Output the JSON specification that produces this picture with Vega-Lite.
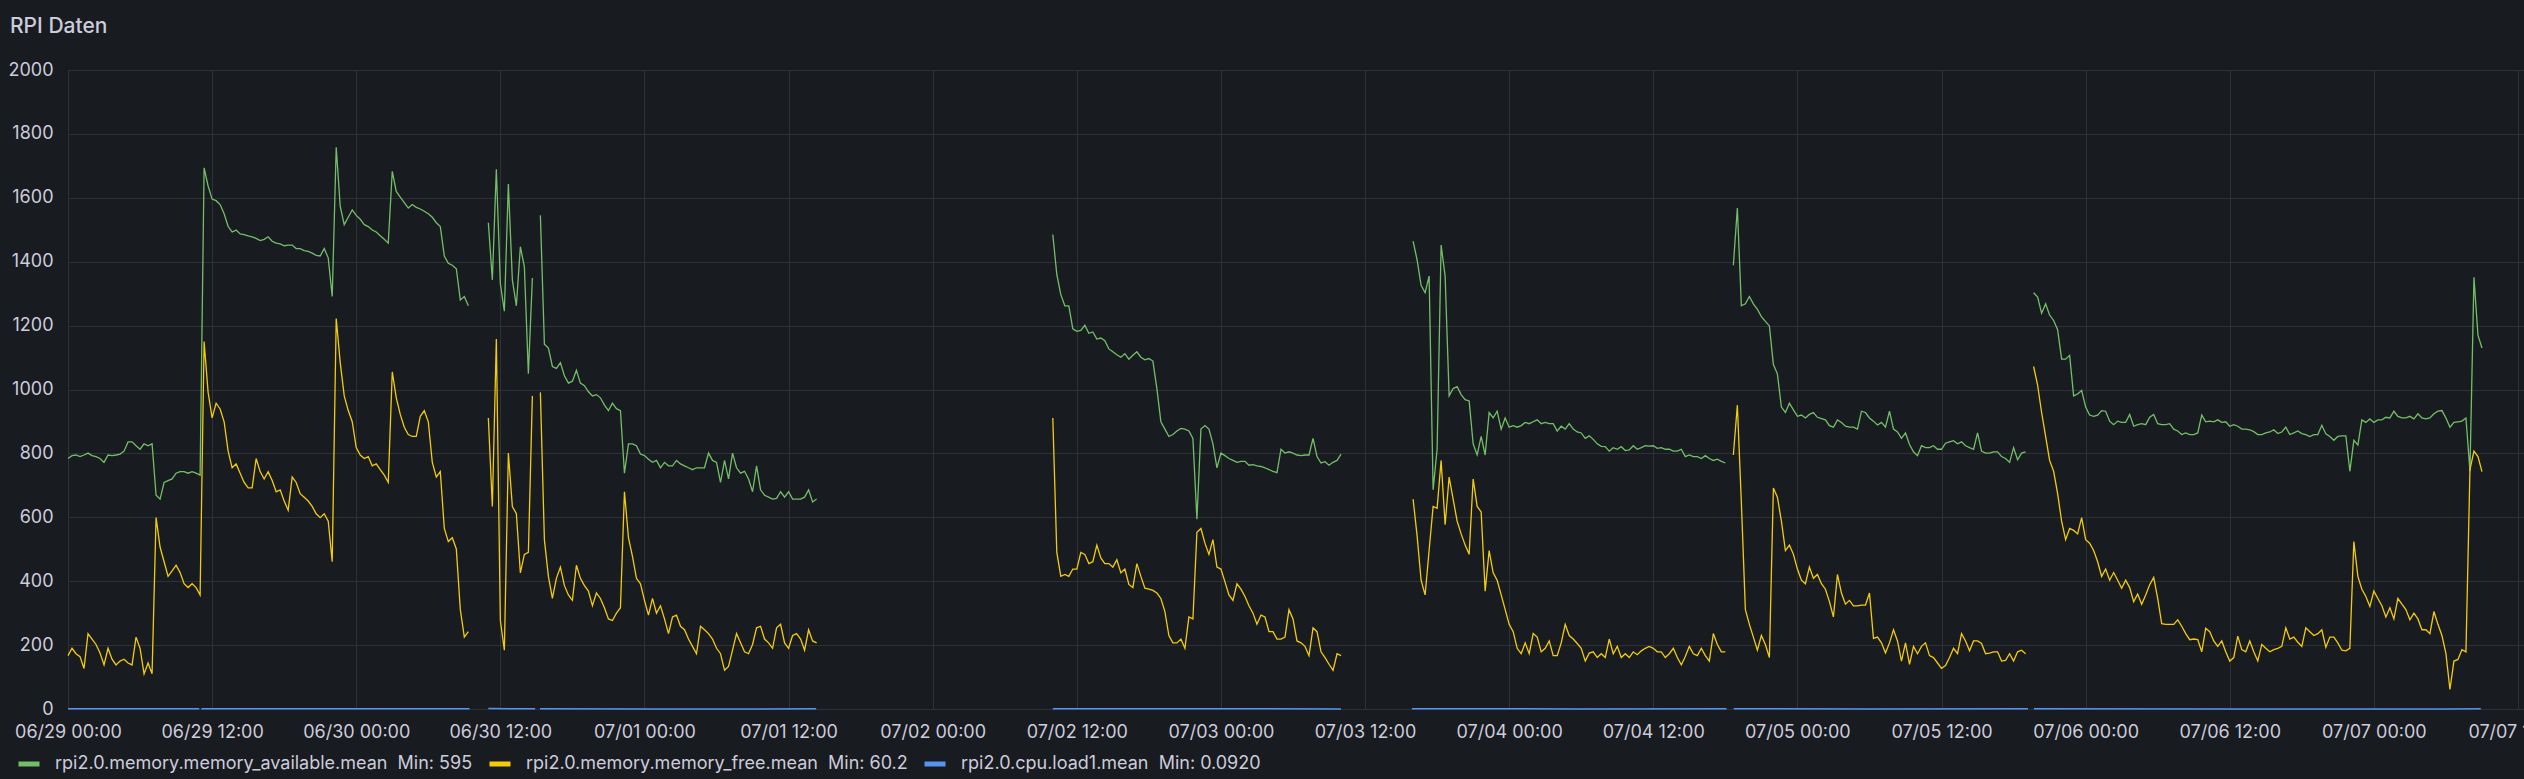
{
"$schema":"https://vega.github.io/schema/vega-lite/v6.json",
"autosize":{"type":"none"},
"width":2456,"height":639,
"padding":{"left":68,"top":70,"right":0,"bottom":70},
"background":"#181b1f",
"title":{"text":"RPI Daten","anchor":"start","frame":"group","dx":-58,"offset":7,"baseline":"alphabetic","fontSize":21,"fontWeight":500,"font":"Inter","color":"#ccccdc"},
"datasets":{
"mem":[
{"t":"2023-06-29T00:00","a":784,"f":167},{"t":"2023-06-29T00:20","a":793,"f":190},{"t":"2023-06-29T00:40","a":795,"f":173},{"t":"2023-06-29T01:00","a":790,"f":164},{"t":"2023-06-29T01:20","a":795,"f":127},{"t":"2023-06-29T01:40","a":801,"f":236},{"t":"2023-06-29T02:00","a":793,"f":219},{"t":"2023-06-29T02:20","a":790,"f":202},{"t":"2023-06-29T02:40","a":784,"f":175},{"t":"2023-06-29T03:00","a":772,"f":138},{"t":"2023-06-29T03:20","a":795,"f":190},{"t":"2023-06-29T03:40","a":793,"f":156},{"t":"2023-06-29T04:00","a":795,"f":138},{"t":"2023-06-29T04:20","a":798,"f":150},{"t":"2023-06-29T04:40","a":807,"f":156},{"t":"2023-06-29T05:00","a":836,"f":144},{"t":"2023-06-29T05:20","a":836,"f":138},{"t":"2023-06-29T05:40","a":824,"f":225},{"t":"2023-06-29T06:00","a":813,"f":190},{"t":"2023-06-29T06:20","a":830,"f":110},{"t":"2023-06-29T06:40","a":824,"f":144},{"t":"2023-06-29T07:00","a":830,"f":110},{"t":"2023-06-29T07:20","a":669,"f":599},{"t":"2023-06-29T07:40","a":657,"f":507},{"t":"2023-06-29T08:00","a":709,"f":461},{"t":"2023-06-29T08:20","a":715,"f":415},{"t":"2023-06-29T08:40","a":720,"f":432},{"t":"2023-06-29T09:00","a":738,"f":450},{"t":"2023-06-29T09:20","a":743,"f":427},{"t":"2023-06-29T09:40","a":743,"f":392},{"t":"2023-06-29T10:00","a":738,"f":380},{"t":"2023-06-29T10:20","a":743,"f":392},{"t":"2023-06-29T10:40","a":738,"f":380},{"t":"2023-06-29T11:00","a":732,"f":357},{"t":"2023-06-29T11:20","a":1694,"f":1150},{"t":"2023-06-29T11:40","a":1637,"f":991},{"t":"2023-06-29T12:00","a":1596,"f":911},{"t":"2023-06-29T12:20","a":1591,"f":957},{"t":"2023-06-29T12:40","a":1579,"f":939},{"t":"2023-06-29T13:00","a":1550,"f":899},{"t":"2023-06-29T13:20","a":1510,"f":807},{"t":"2023-06-29T13:40","a":1493,"f":755},{"t":"2023-06-29T14:00","a":1499,"f":767},{"t":"2023-06-29T14:20","a":1487,"f":738},{"t":"2023-06-29T14:40","a":1485,"f":709},{"t":"2023-06-29T15:00","a":1481,"f":692},{"t":"2023-06-29T15:20","a":1478,"f":692},{"t":"2023-06-29T15:40","a":1473,"f":784},{"t":"2023-06-29T16:00","a":1466,"f":743},{"t":"2023-06-29T16:20","a":1470,"f":720},{"t":"2023-06-29T16:40","a":1478,"f":743},{"t":"2023-06-29T17:00","a":1464,"f":715},{"t":"2023-06-29T17:20","a":1458,"f":680},{"t":"2023-06-29T17:40","a":1456,"f":686},{"t":"2023-06-29T18:00","a":1450,"f":651},{"t":"2023-06-29T18:20","a":1452,"f":622},{"t":"2023-06-29T18:40","a":1452,"f":726},{"t":"2023-06-29T19:00","a":1441,"f":709},{"t":"2023-06-29T19:20","a":1441,"f":674},{"t":"2023-06-29T19:40","a":1435,"f":663},{"t":"2023-06-29T20:00","a":1432,"f":651},{"t":"2023-06-29T20:20","a":1427,"f":634},{"t":"2023-06-29T20:40","a":1420,"f":611},{"t":"2023-06-29T21:00","a":1418,"f":599},{"t":"2023-06-29T21:20","a":1441,"f":611},{"t":"2023-06-29T21:40","a":1412,"f":588},{"t":"2023-06-29T22:00","a":1291,"f":461},{"t":"2023-06-29T22:20","a":1758,"f":1222},{"t":"2023-06-29T22:40","a":1573,"f":1084},{"t":"2023-06-29T23:00","a":1516,"f":980},{"t":"2023-06-29T23:20","a":1539,"f":934},{"t":"2023-06-29T23:40","a":1562,"f":899},
{"t":"2023-06-30T00:00","a":1545,"f":818},{"t":"2023-06-30T00:20","a":1533,"f":795},{"t":"2023-06-30T00:40","a":1516,"f":784},{"t":"2023-06-30T01:00","a":1510,"f":790},{"t":"2023-06-30T01:20","a":1499,"f":761},{"t":"2023-06-30T01:40","a":1493,"f":767},{"t":"2023-06-30T02:00","a":1481,"f":749},{"t":"2023-06-30T02:20","a":1470,"f":732},{"t":"2023-06-30T02:40","a":1458,"f":709},{"t":"2023-06-30T03:00","a":1683,"f":1055},{"t":"2023-06-30T03:20","a":1620,"f":974},{"t":"2023-06-30T03:40","a":1602,"f":922},{"t":"2023-06-30T04:00","a":1585,"f":882},{"t":"2023-06-30T04:20","a":1568,"f":859},{"t":"2023-06-30T04:40","a":1579,"f":853},{"t":"2023-06-30T05:00","a":1570,"f":853},{"t":"2023-06-30T05:20","a":1565,"f":916},{"t":"2023-06-30T05:40","a":1558,"f":934},{"t":"2023-06-30T06:00","a":1550,"f":899},{"t":"2023-06-30T06:20","a":1539,"f":772},{"t":"2023-06-30T06:40","a":1522,"f":726},{"t":"2023-06-30T07:00","a":1510,"f":743},{"t":"2023-06-30T07:20","a":1418,"f":565},{"t":"2023-06-30T07:40","a":1395,"f":524},{"t":"2023-06-30T08:00","a":1389,"f":536},{"t":"2023-06-30T08:20","a":1378,"f":501},{"t":"2023-06-30T08:40","a":1280,"f":311},{"t":"2023-06-30T09:00","a":1291,"f":225},{"t":"2023-06-30T09:20","a":1262,"f":242},
{"t":"2023-06-30T10:00","a":null,"f":null},
{"t":"2023-06-30T11:00","a":1522,"f":911},{"t":"2023-06-30T11:20","a":1343,"f":634},{"t":"2023-06-30T11:40","a":1689,"f":1158},{"t":"2023-06-30T12:00","a":1331,"f":277},{"t":"2023-06-30T12:20","a":1245,"f":184},{"t":"2023-06-30T12:40","a":1643,"f":801},{"t":"2023-06-30T13:00","a":1343,"f":634},{"t":"2023-06-30T13:20","a":1262,"f":611},{"t":"2023-06-30T13:40","a":1447,"f":426},{"t":"2023-06-30T14:00","a":1384,"f":484},{"t":"2023-06-30T14:20","a":1049,"f":490},{"t":"2023-06-30T14:40","a":1349,"f":980},
{"t":"2023-06-30T15:00","a":null,"f":null},
{"t":"2023-06-30T15:20","a":1545,"f":991},{"t":"2023-06-30T15:40","a":1142,"f":530},{"t":"2023-06-30T16:00","a":1130,"f":415},{"t":"2023-06-30T16:20","a":1072,"f":346},{"t":"2023-06-30T16:40","a":1066,"f":409},{"t":"2023-06-30T17:00","a":1084,"f":444},{"t":"2023-06-30T17:20","a":1043,"f":386},{"t":"2023-06-30T17:40","a":1020,"f":357},{"t":"2023-06-30T18:00","a":1026,"f":340},{"t":"2023-06-30T18:20","a":1060,"f":450},{"t":"2023-06-30T18:40","a":1020,"f":409},{"t":"2023-06-30T19:00","a":1012,"f":386},{"t":"2023-06-30T19:20","a":993,"f":369},{"t":"2023-06-30T19:40","a":980,"f":323},{"t":"2023-06-30T20:00","a":984,"f":363},{"t":"2023-06-30T20:20","a":974,"f":346},{"t":"2023-06-30T20:40","a":951,"f":317},{"t":"2023-06-30T21:00","a":934,"f":282},{"t":"2023-06-30T21:20","a":957,"f":277},{"t":"2023-06-30T21:40","a":940,"f":300},{"t":"2023-06-30T22:00","a":934,"f":317},{"t":"2023-06-30T22:20","a":738,"f":680},{"t":"2023-06-30T22:40","a":830,"f":536},{"t":"2023-06-30T23:00","a":830,"f":478},{"t":"2023-06-30T23:20","a":824,"f":409},{"t":"2023-06-30T23:40","a":798,"f":392},
{"t":"2023-07-01T00:00","a":793,"f":340},{"t":"2023-07-01T00:20","a":782,"f":294},{"t":"2023-07-01T00:40","a":772,"f":346},{"t":"2023-07-01T01:00","a":778,"f":300},{"t":"2023-07-01T01:20","a":755,"f":323},{"t":"2023-07-01T01:40","a":772,"f":282},{"t":"2023-07-01T02:00","a":761,"f":236},{"t":"2023-07-01T02:20","a":761,"f":288},{"t":"2023-07-01T02:40","a":778,"f":294},{"t":"2023-07-01T03:00","a":767,"f":259},{"t":"2023-07-01T03:20","a":761,"f":248},{"t":"2023-07-01T03:40","a":755,"f":219},{"t":"2023-07-01T04:00","a":749,"f":196},{"t":"2023-07-01T04:20","a":755,"f":173},{"t":"2023-07-01T04:40","a":755,"f":259},{"t":"2023-07-01T05:00","a":755,"f":248},{"t":"2023-07-01T05:20","a":801,"f":236},{"t":"2023-07-01T05:40","a":778,"f":219},{"t":"2023-07-01T06:00","a":772,"f":190},{"t":"2023-07-01T06:20","a":709,"f":173},{"t":"2023-07-01T06:40","a":778,"f":121},{"t":"2023-07-01T07:00","a":720,"f":133},{"t":"2023-07-01T07:20","a":801,"f":184},{"t":"2023-07-01T07:40","a":755,"f":236},{"t":"2023-07-01T08:00","a":738,"f":207},{"t":"2023-07-01T08:20","a":744,"f":179},{"t":"2023-07-01T08:40","a":720,"f":173},{"t":"2023-07-01T09:00","a":680,"f":202},{"t":"2023-07-01T09:20","a":761,"f":254},{"t":"2023-07-01T09:40","a":686,"f":259},{"t":"2023-07-01T10:00","a":669,"f":219},{"t":"2023-07-01T10:20","a":663,"f":207},{"t":"2023-07-01T10:40","a":657,"f":190},{"t":"2023-07-01T11:00","a":659,"f":254},{"t":"2023-07-01T11:20","a":680,"f":265},{"t":"2023-07-01T11:40","a":663,"f":207},{"t":"2023-07-01T12:00","a":680,"f":190},{"t":"2023-07-01T12:20","a":657,"f":230},{"t":"2023-07-01T12:40","a":657,"f":236},{"t":"2023-07-01T13:00","a":657,"f":219},{"t":"2023-07-01T13:20","a":663,"f":184},{"t":"2023-07-01T13:40","a":686,"f":248},{"t":"2023-07-01T14:00","a":648,"f":213},{"t":"2023-07-01T14:20","a":657,"f":207},
{"t":"2023-07-01T15:00","a":null,"f":null},
{"t":"2023-07-02T10:00","a":1485,"f":911},{"t":"2023-07-02T10:20","a":1360,"f":490},{"t":"2023-07-02T10:40","a":1297,"f":415},{"t":"2023-07-02T11:00","a":1262,"f":421},{"t":"2023-07-02T11:20","a":1262,"f":415},{"t":"2023-07-02T11:40","a":1190,"f":438},{"t":"2023-07-02T12:00","a":1182,"f":438},{"t":"2023-07-02T12:20","a":1185,"f":490},{"t":"2023-07-02T12:40","a":1201,"f":484},{"t":"2023-07-02T13:00","a":1176,"f":455},{"t":"2023-07-02T13:20","a":1180,"f":461},{"t":"2023-07-02T13:40","a":1158,"f":513},{"t":"2023-07-02T14:00","a":1161,"f":473},{"t":"2023-07-02T14:20","a":1153,"f":455},{"t":"2023-07-02T14:40","a":1127,"f":455},{"t":"2023-07-02T15:00","a":1118,"f":444},{"t":"2023-07-02T15:20","a":1109,"f":467},{"t":"2023-07-02T15:40","a":1101,"f":426},{"t":"2023-07-02T16:00","a":1112,"f":438},{"t":"2023-07-02T16:20","a":1095,"f":390},{"t":"2023-07-02T16:40","a":1107,"f":380},{"t":"2023-07-02T17:00","a":1118,"f":455},{"t":"2023-07-02T17:20","a":1101,"f":415},{"t":"2023-07-02T17:40","a":1093,"f":378},{"t":"2023-07-02T18:00","a":1097,"f":375},{"t":"2023-07-02T18:20","a":1089,"f":371},{"t":"2023-07-02T18:40","a":1003,"f":363},{"t":"2023-07-02T19:00","a":899,"f":346},{"t":"2023-07-02T19:20","a":876,"f":305},{"t":"2023-07-02T19:40","a":853,"f":230},{"t":"2023-07-02T20:00","a":859,"f":207},{"t":"2023-07-02T20:20","a":870,"f":207},{"t":"2023-07-02T20:40","a":878,"f":219},{"t":"2023-07-02T21:00","a":876,"f":190},{"t":"2023-07-02T21:20","a":870,"f":288},{"t":"2023-07-02T21:40","a":847,"f":282},{"t":"2023-07-02T22:00","a":594,"f":553},{"t":"2023-07-02T22:20","a":876,"f":565},{"t":"2023-07-02T22:40","a":887,"f":519},{"t":"2023-07-02T23:00","a":876,"f":484},{"t":"2023-07-02T23:20","a":830,"f":530},{"t":"2023-07-02T23:40","a":755,"f":444},
{"t":"2023-07-03T00:00","a":801,"f":438},{"t":"2023-07-03T00:20","a":793,"f":398},{"t":"2023-07-03T00:40","a":784,"f":357},{"t":"2023-07-03T01:00","a":778,"f":340},{"t":"2023-07-03T01:20","a":772,"f":392},{"t":"2023-07-03T01:40","a":775,"f":375},{"t":"2023-07-03T02:00","a":775,"f":352},{"t":"2023-07-03T02:20","a":763,"f":323},{"t":"2023-07-03T02:40","a":765,"f":300},{"t":"2023-07-03T03:00","a":761,"f":265},{"t":"2023-07-03T03:20","a":759,"f":294},{"t":"2023-07-03T03:40","a":755,"f":288},{"t":"2023-07-03T04:00","a":749,"f":242},{"t":"2023-07-03T04:20","a":744,"f":242},{"t":"2023-07-03T04:40","a":740,"f":219},{"t":"2023-07-03T05:00","a":813,"f":219},{"t":"2023-07-03T05:20","a":801,"f":225},{"t":"2023-07-03T05:40","a":805,"f":311},{"t":"2023-07-03T06:00","a":801,"f":282},{"t":"2023-07-03T06:20","a":795,"f":213},{"t":"2023-07-03T06:40","a":793,"f":207},{"t":"2023-07-03T07:00","a":795,"f":196},{"t":"2023-07-03T07:20","a":795,"f":167},{"t":"2023-07-03T07:40","a":847,"f":254},{"t":"2023-07-03T08:00","a":790,"f":242},{"t":"2023-07-03T08:20","a":770,"f":179},{"t":"2023-07-03T08:40","a":774,"f":161},{"t":"2023-07-03T09:00","a":763,"f":140},{"t":"2023-07-03T09:20","a":772,"f":121},{"t":"2023-07-03T09:40","a":778,"f":173},{"t":"2023-07-03T10:00","a":798,"f":167},
{"t":"2023-07-03T11:00","a":null,"f":null},
{"t":"2023-07-03T16:00","a":1464,"f":657},{"t":"2023-07-03T16:20","a":1406,"f":542},{"t":"2023-07-03T16:40","a":1326,"f":403},{"t":"2023-07-03T17:00","a":1303,"f":357},{"t":"2023-07-03T17:20","a":1355,"f":496},{"t":"2023-07-03T17:40","a":686,"f":634},{"t":"2023-07-03T18:00","a":813,"f":628},{"t":"2023-07-03T18:20","a":1452,"f":778},{"t":"2023-07-03T18:40","a":1355,"f":577},{"t":"2023-07-03T19:00","a":980,"f":726},{"t":"2023-07-03T19:20","a":1003,"f":657},{"t":"2023-07-03T19:40","a":1009,"f":588},{"t":"2023-07-03T20:00","a":984,"f":548},{"t":"2023-07-03T20:20","a":968,"f":513},{"t":"2023-07-03T20:40","a":964,"f":484},{"t":"2023-07-03T21:00","a":830,"f":720},{"t":"2023-07-03T21:20","a":795,"f":634},{"t":"2023-07-03T21:40","a":853,"f":617},{"t":"2023-07-03T22:00","a":795,"f":369},{"t":"2023-07-03T22:20","a":928,"f":496},{"t":"2023-07-03T22:40","a":911,"f":426},{"t":"2023-07-03T23:00","a":932,"f":403},{"t":"2023-07-03T23:20","a":876,"f":357},{"t":"2023-07-03T23:40","a":911,"f":311},
{"t":"2023-07-04T00:00","a":882,"f":265},{"t":"2023-07-04T00:20","a":887,"f":242},{"t":"2023-07-04T00:40","a":882,"f":190},{"t":"2023-07-04T01:00","a":887,"f":173},{"t":"2023-07-04T01:20","a":897,"f":207},{"t":"2023-07-04T01:40","a":893,"f":173},{"t":"2023-07-04T02:00","a":899,"f":236},{"t":"2023-07-04T02:20","a":905,"f":225},{"t":"2023-07-04T02:40","a":893,"f":179},{"t":"2023-07-04T03:00","a":897,"f":190},{"t":"2023-07-04T03:20","a":893,"f":213},{"t":"2023-07-04T03:40","a":893,"f":167},{"t":"2023-07-04T04:00","a":870,"f":167},{"t":"2023-07-04T04:20","a":885,"f":207},{"t":"2023-07-04T04:40","a":876,"f":265},{"t":"2023-07-04T05:00","a":893,"f":230},{"t":"2023-07-04T05:20","a":876,"f":219},{"t":"2023-07-04T05:40","a":867,"f":205},{"t":"2023-07-04T06:00","a":864,"f":190},{"t":"2023-07-04T06:20","a":847,"f":150},{"t":"2023-07-04T06:40","a":855,"f":175},{"t":"2023-07-04T07:00","a":844,"f":179},{"t":"2023-07-04T07:20","a":830,"f":161},{"t":"2023-07-04T07:40","a":822,"f":173},{"t":"2023-07-04T08:00","a":821,"f":161},{"t":"2023-07-04T08:20","a":807,"f":219},{"t":"2023-07-04T08:40","a":818,"f":173},{"t":"2023-07-04T09:00","a":813,"f":196},{"t":"2023-07-04T09:20","a":821,"f":161},{"t":"2023-07-04T09:40","a":809,"f":173},{"t":"2023-07-04T10:00","a":811,"f":161},{"t":"2023-07-04T10:20","a":824,"f":179},{"t":"2023-07-04T10:40","a":813,"f":170},{"t":"2023-07-04T11:00","a":818,"f":182},{"t":"2023-07-04T11:20","a":824,"f":190},{"t":"2023-07-04T11:40","a":823,"f":196},{"t":"2023-07-04T12:00","a":824,"f":190},{"t":"2023-07-04T12:20","a":816,"f":179},{"t":"2023-07-04T12:40","a":818,"f":179},{"t":"2023-07-04T13:00","a":813,"f":161},{"t":"2023-07-04T13:20","a":813,"f":173},{"t":"2023-07-04T13:40","a":807,"f":190},{"t":"2023-07-04T14:00","a":807,"f":161},{"t":"2023-07-04T14:20","a":813,"f":138},{"t":"2023-07-04T14:40","a":790,"f":164},{"t":"2023-07-04T15:00","a":795,"f":196},{"t":"2023-07-04T15:20","a":790,"f":173},{"t":"2023-07-04T15:40","a":790,"f":167},{"t":"2023-07-04T16:00","a":784,"f":190},{"t":"2023-07-04T16:20","a":793,"f":167},{"t":"2023-07-04T16:40","a":784,"f":150},{"t":"2023-07-04T17:00","a":778,"f":236},{"t":"2023-07-04T17:20","a":782,"f":202},{"t":"2023-07-04T17:40","a":775,"f":179},{"t":"2023-07-04T18:00","a":770,"f":179},
{"t":"2023-07-04T18:20","a":null,"f":null},
{"t":"2023-07-04T18:40","a":1389,"f":795},{"t":"2023-07-04T19:00","a":1568,"f":951},{"t":"2023-07-04T19:20","a":1262,"f":646},{"t":"2023-07-04T19:40","a":1268,"f":311},{"t":"2023-07-04T20:00","a":1291,"f":265},{"t":"2023-07-04T20:20","a":1268,"f":225},{"t":"2023-07-04T20:40","a":1251,"f":184},{"t":"2023-07-04T21:00","a":1228,"f":230},{"t":"2023-07-04T21:20","a":1213,"f":202},{"t":"2023-07-04T21:40","a":1199,"f":161},{"t":"2023-07-04T22:00","a":1078,"f":692},{"t":"2023-07-04T22:20","a":1049,"f":663},{"t":"2023-07-04T22:40","a":945,"f":588},{"t":"2023-07-04T23:00","a":928,"f":496},{"t":"2023-07-04T23:20","a":957,"f":513},{"t":"2023-07-04T23:40","a":936,"f":484},
{"t":"2023-07-05T00:00","a":916,"f":438},{"t":"2023-07-05T00:20","a":920,"f":403},{"t":"2023-07-05T00:40","a":911,"f":392},{"t":"2023-07-05T01:00","a":922,"f":444},{"t":"2023-07-05T01:20","a":928,"f":409},{"t":"2023-07-05T01:40","a":913,"f":421},{"t":"2023-07-05T02:00","a":909,"f":392},{"t":"2023-07-05T02:20","a":905,"f":375},{"t":"2023-07-05T02:40","a":887,"f":336},{"t":"2023-07-05T03:00","a":882,"f":288},{"t":"2023-07-05T03:20","a":905,"f":421},{"t":"2023-07-05T03:40","a":897,"f":363},{"t":"2023-07-05T04:00","a":885,"f":328},{"t":"2023-07-05T04:20","a":882,"f":340},{"t":"2023-07-05T04:40","a":882,"f":323},{"t":"2023-07-05T05:00","a":876,"f":323},{"t":"2023-07-05T05:20","a":932,"f":325},{"t":"2023-07-05T05:40","a":928,"f":325},{"t":"2023-07-05T06:00","a":911,"f":363},{"t":"2023-07-05T06:20","a":901,"f":221},{"t":"2023-07-05T06:40","a":889,"f":225},{"t":"2023-07-05T07:00","a":897,"f":207},{"t":"2023-07-05T07:20","a":882,"f":175},{"t":"2023-07-05T07:40","a":932,"f":207},{"t":"2023-07-05T08:00","a":876,"f":248},{"t":"2023-07-05T08:20","a":867,"f":213},{"t":"2023-07-05T08:40","a":847,"f":150},{"t":"2023-07-05T09:00","a":864,"f":207},{"t":"2023-07-05T09:20","a":828,"f":140},{"t":"2023-07-05T09:40","a":805,"f":196},{"t":"2023-07-05T10:00","a":793,"f":173},{"t":"2023-07-05T10:20","a":824,"f":196},{"t":"2023-07-05T10:40","a":818,"f":207},{"t":"2023-07-05T11:00","a":818,"f":167},{"t":"2023-07-05T11:20","a":824,"f":161},{"t":"2023-07-05T11:40","a":813,"f":144},{"t":"2023-07-05T12:00","a":813,"f":127},{"t":"2023-07-05T12:20","a":832,"f":136},{"t":"2023-07-05T12:40","a":836,"f":161},{"t":"2023-07-05T13:00","a":840,"f":190},{"t":"2023-07-05T13:20","a":830,"f":173},{"t":"2023-07-05T13:40","a":836,"f":236},{"t":"2023-07-05T14:00","a":824,"f":213},{"t":"2023-07-05T14:20","a":818,"f":182},{"t":"2023-07-05T14:40","a":813,"f":213},{"t":"2023-07-05T15:00","a":864,"f":213},{"t":"2023-07-05T15:20","a":807,"f":205},{"t":"2023-07-05T15:40","a":801,"f":173},{"t":"2023-07-05T16:00","a":801,"f":175},{"t":"2023-07-05T16:20","a":805,"f":179},{"t":"2023-07-05T16:40","a":805,"f":179},{"t":"2023-07-05T17:00","a":790,"f":150},{"t":"2023-07-05T17:20","a":784,"f":152},{"t":"2023-07-05T17:40","a":772,"f":173},{"t":"2023-07-05T18:00","a":818,"f":150},{"t":"2023-07-05T18:20","a":780,"f":179},{"t":"2023-07-05T18:40","a":801,"f":184},{"t":"2023-07-05T19:00","a":805,"f":173},
{"t":"2023-07-05T19:20","a":null,"f":null},
{"t":"2023-07-05T19:40","a":1303,"f":1072},{"t":"2023-07-05T20:00","a":1289,"f":1014},{"t":"2023-07-05T20:20","a":1239,"f":928},{"t":"2023-07-05T20:40","a":1268,"f":853},{"t":"2023-07-05T21:00","a":1233,"f":778},{"t":"2023-07-05T21:20","a":1216,"f":744},{"t":"2023-07-05T21:40","a":1187,"f":674},{"t":"2023-07-05T22:00","a":1095,"f":588},{"t":"2023-07-05T22:20","a":1095,"f":530},{"t":"2023-07-05T22:40","a":1107,"f":565},{"t":"2023-07-05T23:00","a":980,"f":559},{"t":"2023-07-05T23:20","a":986,"f":548},{"t":"2023-07-05T23:40","a":997,"f":599},
{"t":"2023-07-06T00:00","a":945,"f":530},{"t":"2023-07-06T00:20","a":920,"f":519},{"t":"2023-07-06T00:40","a":916,"f":496},{"t":"2023-07-06T01:00","a":920,"f":461},{"t":"2023-07-06T01:20","a":934,"f":415},{"t":"2023-07-06T01:40","a":932,"f":438},{"t":"2023-07-06T02:00","a":901,"f":403},{"t":"2023-07-06T02:20","a":890,"f":427},{"t":"2023-07-06T02:40","a":901,"f":403},{"t":"2023-07-06T03:00","a":897,"f":378},{"t":"2023-07-06T03:20","a":897,"f":403},{"t":"2023-07-06T03:40","a":922,"f":380},{"t":"2023-07-06T04:00","a":885,"f":336},{"t":"2023-07-06T04:20","a":890,"f":360},{"t":"2023-07-06T04:40","a":893,"f":328},{"t":"2023-07-06T05:00","a":890,"f":357},{"t":"2023-07-06T05:20","a":913,"f":389},{"t":"2023-07-06T05:40","a":922,"f":412},{"t":"2023-07-06T06:00","a":893,"f":346},{"t":"2023-07-06T06:20","a":890,"f":267},{"t":"2023-07-06T06:40","a":890,"f":265},{"t":"2023-07-06T07:00","a":893,"f":265},{"t":"2023-07-06T07:20","a":876,"f":265},{"t":"2023-07-06T07:40","a":870,"f":279},{"t":"2023-07-06T08:00","a":859,"f":259},{"t":"2023-07-06T08:20","a":864,"f":236},{"t":"2023-07-06T08:40","a":859,"f":217},{"t":"2023-07-06T09:00","a":859,"f":219},{"t":"2023-07-06T09:20","a":864,"f":217},{"t":"2023-07-06T09:40","a":920,"f":179},{"t":"2023-07-06T10:00","a":899,"f":253},{"t":"2023-07-06T10:20","a":901,"f":242},{"t":"2023-07-06T10:40","a":899,"f":213},{"t":"2023-07-06T11:00","a":905,"f":196},{"t":"2023-07-06T11:20","a":897,"f":213},{"t":"2023-07-06T11:40","a":899,"f":179},{"t":"2023-07-06T12:00","a":885,"f":150},{"t":"2023-07-06T12:20","a":890,"f":161},{"t":"2023-07-06T12:40","a":885,"f":228},{"t":"2023-07-06T13:00","a":876,"f":186},{"t":"2023-07-06T13:20","a":876,"f":179},{"t":"2023-07-06T13:40","a":874,"f":213},{"t":"2023-07-06T14:00","a":868,"f":179},{"t":"2023-07-06T14:20","a":859,"f":150},{"t":"2023-07-06T14:40","a":859,"f":202},{"t":"2023-07-06T15:00","a":864,"f":190},{"t":"2023-07-06T15:20","a":867,"f":179},{"t":"2023-07-06T15:40","a":874,"f":186},{"t":"2023-07-06T16:00","a":862,"f":190},{"t":"2023-07-06T16:20","a":867,"f":196},{"t":"2023-07-06T16:40","a":882,"f":254},{"t":"2023-07-06T17:00","a":859,"f":219},{"t":"2023-07-06T17:20","a":864,"f":225},{"t":"2023-07-06T17:40","a":870,"f":209},{"t":"2023-07-06T18:00","a":862,"f":196},{"t":"2023-07-06T18:20","a":859,"f":254},{"t":"2023-07-06T18:40","a":853,"f":242},{"t":"2023-07-06T19:00","a":859,"f":230},{"t":"2023-07-06T19:20","a":859,"f":236},{"t":"2023-07-06T19:40","a":888,"f":248},{"t":"2023-07-06T20:00","a":861,"f":193},{"t":"2023-07-06T20:20","a":853,"f":225},{"t":"2023-07-06T20:40","a":841,"f":225},{"t":"2023-07-06T21:00","a":853,"f":207},{"t":"2023-07-06T21:20","a":855,"f":184},{"t":"2023-07-06T21:40","a":855,"f":182},{"t":"2023-07-06T22:00","a":744,"f":190},{"t":"2023-07-06T22:20","a":841,"f":524},{"t":"2023-07-06T22:40","a":826,"f":415},{"t":"2023-07-06T23:00","a":905,"f":375},{"t":"2023-07-06T23:20","a":897,"f":352},{"t":"2023-07-06T23:40","a":908,"f":321},
{"t":"2023-07-07T00:00","a":897,"f":369},{"t":"2023-07-07T00:20","a":905,"f":346},{"t":"2023-07-07T00:40","a":905,"f":323},{"t":"2023-07-07T01:00","a":913,"f":288},{"t":"2023-07-07T01:20","a":911,"f":317},{"t":"2023-07-07T01:40","a":932,"f":282},{"t":"2023-07-07T02:00","a":916,"f":346},{"t":"2023-07-07T02:20","a":911,"f":328},{"t":"2023-07-07T02:40","a":911,"f":311},{"t":"2023-07-07T03:00","a":916,"f":279},{"t":"2023-07-07T03:20","a":908,"f":300},{"t":"2023-07-07T03:40","a":924,"f":282},{"t":"2023-07-07T04:00","a":911,"f":248},{"t":"2023-07-07T04:20","a":908,"f":248},{"t":"2023-07-07T04:40","a":911,"f":236},{"t":"2023-07-07T05:00","a":924,"f":305},{"t":"2023-07-07T05:20","a":932,"f":265},{"t":"2023-07-07T05:40","a":934,"f":230},{"t":"2023-07-07T06:00","a":911,"f":173},{"t":"2023-07-07T06:20","a":882,"f":61},{"t":"2023-07-07T06:40","a":897,"f":150},{"t":"2023-07-07T07:00","a":899,"f":155},{"t":"2023-07-07T07:20","a":901,"f":186},{"t":"2023-07-07T07:40","a":911,"f":179},{"t":"2023-07-07T08:00","a":744,"f":749},{"t":"2023-07-07T08:20","a":1351,"f":807},{"t":"2023-07-07T08:40","a":1170,"f":790},{"t":"2023-07-07T09:00","a":1130,"f":743}
],
"cpu":[
{"t":"2023-06-29T00:00","k":"c","v":0.6},{"t":"2023-06-29T06:00","k":"c","v":0.4},{"t":"2023-06-29T10:56","k":"c","v":0.5},{"t":"2023-06-29T11:00","k":"c","v":null},{"t":"2023-06-29T11:06","k":"c","v":0.9},{"t":"2023-06-29T20:00","k":"c","v":0.4},{"t":"2023-06-30T09:26","k":"c","v":0.5},{"t":"2023-06-30T10:00","k":"c","v":null},{"t":"2023-06-30T11:00","k":"c","v":1.2},{"t":"2023-06-30T14:54","k":"c","v":0.8},{"t":"2023-06-30T15:06","k":"c","v":null},{"t":"2023-06-30T15:18","k":"c","v":0.9},{"t":"2023-07-01T00:00","k":"c","v":0.3},{"t":"2023-07-01T14:18","k":"c","v":0.4},{"t":"2023-07-01T15:00","k":"c","v":null},{"t":"2023-07-02T10:00","k":"c","v":0.8},{"t":"2023-07-02T22:00","k":"c","v":1.1},{"t":"2023-07-03T10:00","k":"c","v":0.3},{"t":"2023-07-03T11:00","k":"c","v":null},{"t":"2023-07-03T15:54","k":"c","v":0.7},{"t":"2023-07-04T06:00","k":"c","v":0.3},{"t":"2023-07-04T18:06","k":"c","v":0.4},{"t":"2023-07-04T18:20","k":"c","v":null},{"t":"2023-07-04T18:42","k":"c","v":0.9},{"t":"2023-07-05T06:00","k":"c","v":0.3},{"t":"2023-07-05T19:12","k":"c","v":0.4},{"t":"2023-07-05T19:20","k":"c","v":null},{"t":"2023-07-05T19:42","k":"c","v":1.0},{"t":"2023-07-06T12:00","k":"c","v":0.3},{"t":"2023-07-07T06:00","k":"c","v":0.092},{"t":"2023-07-07T08:54","k":"c","v":0.8}
]
},
"encoding":{
"x":{"field":"t","type":"temporal","scale":{"domain":["2023-06-29T00:00","2023-07-07T12:30"],"nice":false},
 "axis":{"format":"%m/%d %H:%M","values":["2023-06-29T00:00","2023-06-29T12:00","2023-06-30T00:00","2023-06-30T12:00","2023-07-01T00:00","2023-07-01T12:00","2023-07-02T00:00","2023-07-02T12:00","2023-07-03T00:00","2023-07-03T12:00","2023-07-04T00:00","2023-07-04T12:00","2023-07-05T00:00","2023-07-05T12:00","2023-07-06T00:00","2023-07-06T12:00","2023-07-07T00:00","2023-07-07T12:00"],"labelFlush":false,"labelOverlap":false,"title":null,"labelPadding":14}},
"y":{"field":"v","type":"quantitative","scale":{"domain":[0,2000],"nice":false},
 "axis":{"values":[0,200,400,600,800,1000,1200,1400,1600,1800,2000],"format":"d","title":null,"labelPadding":15}},
"color":{"field":"k","type":"nominal","scale":{"domain":["a","f","c"],"range":["#73BF69","#F2CC0C","#5794F2"]},
 "legend":{"orient":"none","legendX":-52,"legendY":681,"direction":"horizontal","title":null,
  "symbolType":"stroke","symbolSize":441,"symbolStrokeWidth":5,"labelFontSize":18,"labelFont":"Inter","labelColor":"#ccccdc","labelOffset":13,"columnPadding":6,"labelLimit":1000,
  "labelExpr":"datum.value == 'a' ? 'rpi2.0.memory.memory_available.mean\u00a0\u00a0Min: 595' : datum.value == 'f' ? 'rpi2.0.memory.memory_free.mean\u00a0\u00a0Min: 60.2' : 'rpi2.0.cpu.load1.mean\u00a0\u00a0Min: 0.0920'"}}
},
"layer":[
{"data":{"name":"mem"},"transform":[{"fold":["a","f"],"as":["k","v"]}],
 "mark":{"type":"line","strokeWidth":1.3}},
{"data":{"name":"cpu"},
 "mark":{"type":"line","strokeWidth":1.5}}
],
"config":{
"view":{"stroke":null},
"font":"Inter",
"axis":{"grid":true,"gridColor":"#2e3135","gridWidth":1,"domain":false,"ticks":false,"labelFont":"Inter","labelFontSize":18,"labelColor":"#ccccdc"}
}
}
